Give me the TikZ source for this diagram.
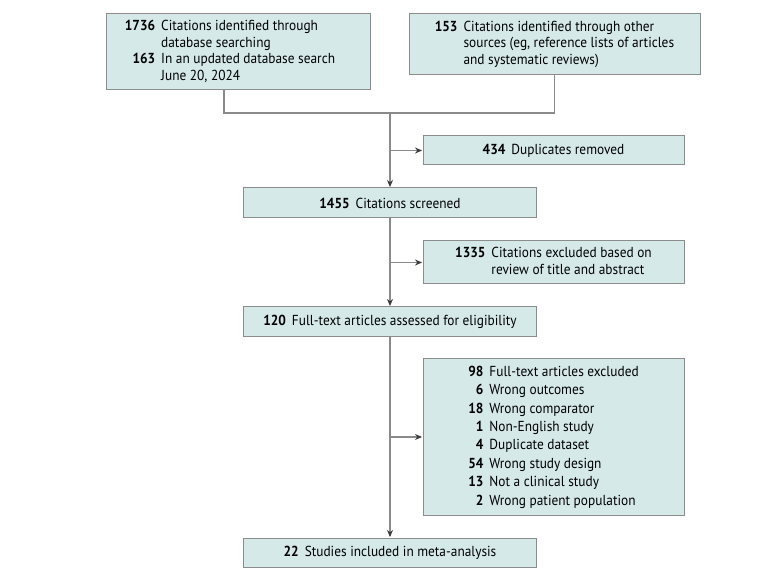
\documentclass[tikz,border=0pt]{standalone}
\usepackage{fontspec}
\setmainfont{PT Sans}[FakeStretch=0.92]
\usetikzlibrary{arrows.meta,calc}
\definecolor{boxfill}{HTML}{D6E9E9}
\definecolor{boxline}{HTML}{8C8C8C}
\definecolor{linegray}{HTML}{8A8A8A}
\definecolor{tipcol}{HTML}{3A3A3A}
\tikzset{
  stage/.style={draw=boxline, fill=boxfill, line width=1pt, inner sep=0pt, align=center,
    font=\fontsize{14.5}{16.6}\selectfont},
  link/.style={draw=linegray, line width=1.1pt},
  arr/.style={link, -{Stealth[length=7pt,width=6pt,color=tipcol]}, shorten >=0.5pt},
}
\newcommand{\nb}[1]{\textbf{#1}}
\begin{document}
\begin{tikzpicture}[x=1pt,y=-1pt]
\fill[white] (0,0) rectangle (780,580);
\useasboundingbox (0,0) rectangle (780,580);

\node[stage, minimum width=264pt, minimum height=76pt] (b1) at (238,52)
 {\begin{tabular}{@{}r@{\hspace{6pt}}l@{}}\nb{1736} & Citations identified through\\ & database searching\\ \nb{163} & In an updated database search\\ & June 20, 2024\end{tabular}\hspace{16pt}};
\node[stage, minimum width=291pt, minimum height=61pt] (b2) at (554.5,44.5)
 {\begin{tabular}{@{}r@{\hspace{6pt}}l@{}}\nb{153} & Citations identified through other\\ & sources (eg, reference lists of articles\\ & and systematic reviews)\end{tabular}};
\node[stage, minimum width=261pt, minimum height=29pt] (dup) at (553.5,150.5)
 {\nb{434}\hspace{6pt}Duplicates removed};
\node[stage, minimum width=293pt, minimum height=30pt] (scr) at (390,203)
 {\nb{1455}\hspace{6pt}Citations screened};
\node[stage, minimum width=261pt, minimum height=43pt] (exc) at (553.5,262.5)
 {\begin{tabular}{@{}r@{\hspace{6pt}}l@{}}\nb{1335} & Citations excluded based on\\ & review of title and abstract\end{tabular}};
\node[stage, minimum width=293pt, minimum height=30pt] (ft) at (390,322)
 {\nb{120}\hspace{6pt}Full-text articles assessed for eligibility};
\node[stage, minimum width=261pt, minimum height=156pt] (ex) at (553.5,437)
 {\renewcommand{\arraystretch}{1.11}\begin{tabular}{@{}r@{\hspace{6pt}}l@{}}\nb{98} & Full-text articles excluded\\ \nb{6} & Wrong outcomes\\ \nb{18} & Wrong comparator\\ \nb{1} & Non-English study\\ \nb{4} & Duplicate dataset\\ \nb{54} & Wrong study design\\ \nb{13} & Not a clinical study\\ \nb{2} & Wrong patient population\end{tabular}};
\node[stage, minimum width=293pt, minimum height=29pt] (inc) at (390,552.5)
 {\nb{22}\hspace{6pt}Studies included in meta-analysis};

\coordinate (m) at (390,113);
\coordinate (l) at (224,113);
\draw[link] (b1.south -| l) -- (l) -| (b2.south);
\draw[arr] (m) -- (scr.north);
\draw[arr] (m |- dup.west) -- (dup.west);
\draw[arr] (scr.south) -- (ft.north);
\draw[arr] (scr.south |- exc.west) -- (exc.west);
\draw[arr] (ft.south) -- (inc.north);
\draw[arr] (ft.south |- ex.west) -- (ex.west);
\end{tikzpicture}
\end{document}
